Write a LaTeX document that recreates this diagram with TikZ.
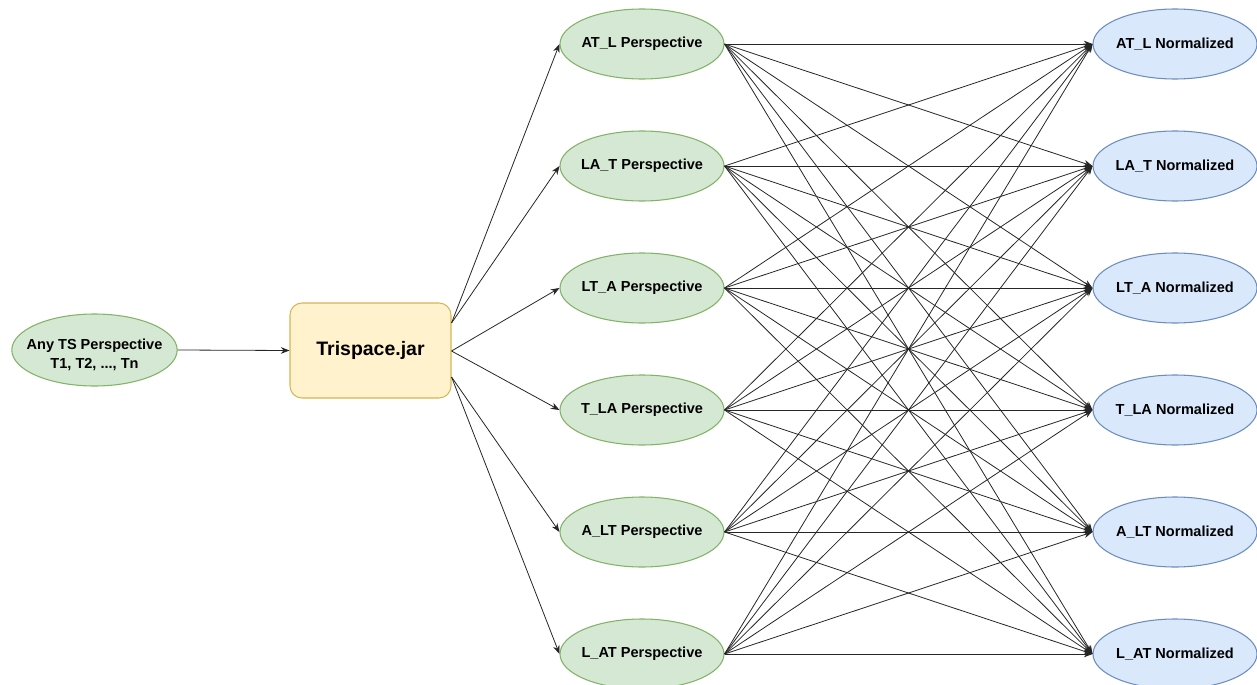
\documentclass[tikz,border=0pt]{standalone}
\usepackage{fontspec}
\setmainfont{Liberation Sans}
\usetikzlibrary{shapes.geometric,arrows.meta,calc}
\definecolor{gfill}{HTML}{D5E8D4}
\definecolor{gline}{HTML}{82B366}
\definecolor{bfill}{HTML}{DAE8FC}
\definecolor{bline}{HTML}{6C8EBF}
\definecolor{yfill}{HTML}{FFF2CC}
\definecolor{yline}{HTML}{D6B656}
\tikzset{
  persp/.style={ellipse, draw=gline, fill=gfill, line width=0.8pt, minimum width=123pt, minimum height=52.5pt, inner sep=0pt, font=\fontsize{10.9}{13}\selectfont\bfseries},
  norm/.style={ellipse, draw=bline, fill=bfill, line width=0.8pt, minimum width=123pt, minimum height=52.5pt, inner sep=0pt, font=\fontsize{10.9}{13}\selectfont\bfseries},
  jarbox/.style={rectangle, rounded corners=9pt, draw=yline, fill=yfill, line width=0.8pt, minimum width=120.75pt, minimum height=71.25pt, inner sep=0pt, font=\fontsize{14.6}{17}\selectfont\bfseries},
  conn/.style={draw=black!85, line width=0.6pt, -{Stealth[length=6.5pt,width=5pt]}},
}
\begin{document}
\begin{tikzpicture}[x=0.75pt,y=-0.75pt]
\useasboundingbox (0,0) rectangle (1257,685);
\node[persp, minimum width=124pt, minimum height=54pt] (src) at (94.5,350) {\makebox[0pt]{\raisebox{-14pt}[0pt][0pt]{\shortstack{Any TS Perspective\\[1.5pt]T1, T2, ..., Tn}}}};
\node[jarbox] (tj) at (370.5,350.5) {Trispace.jar};
\foreach \i/\t/\y in {1/AT\_L/44,2/LA\_T/166,3/LT\_A/288,4/T\_LA/410,5/A\_LT/532,6/L\_AT/654}{
  \node[persp] (g\i) at (642,\y) {\makebox[0pt]{\t{} Perspective}};
  \node[norm] (b\i) at (1175,\y) {\makebox[0pt]{\t{} Normalized}};
}
\coordinate (o1) at ($(tj.east)+(0,-27.5)$);
\coordinate (o2) at ($(tj.east)+(0,0.5)$);
\coordinate (o3) at ($(tj.east)+(0,26.5)$);
\draw[conn] (src.east) -- (tj.west);
\draw[conn] (o1) -- (g1.west);
\draw[conn] (o1) -- (g2.west);
\draw[conn] (o2) -- (g3.west);
\draw[conn] (o2) -- (g4.west);
\draw[conn] (o3) -- (g5.west);
\draw[conn] (o3) -- (g6.west);
\foreach \i in {1,...,6}{
  \foreach \j in {1,...,6}{
    \draw[conn] (g\i.east) -- (b\j.west);
  }
}
\end{tikzpicture}
\end{document}
